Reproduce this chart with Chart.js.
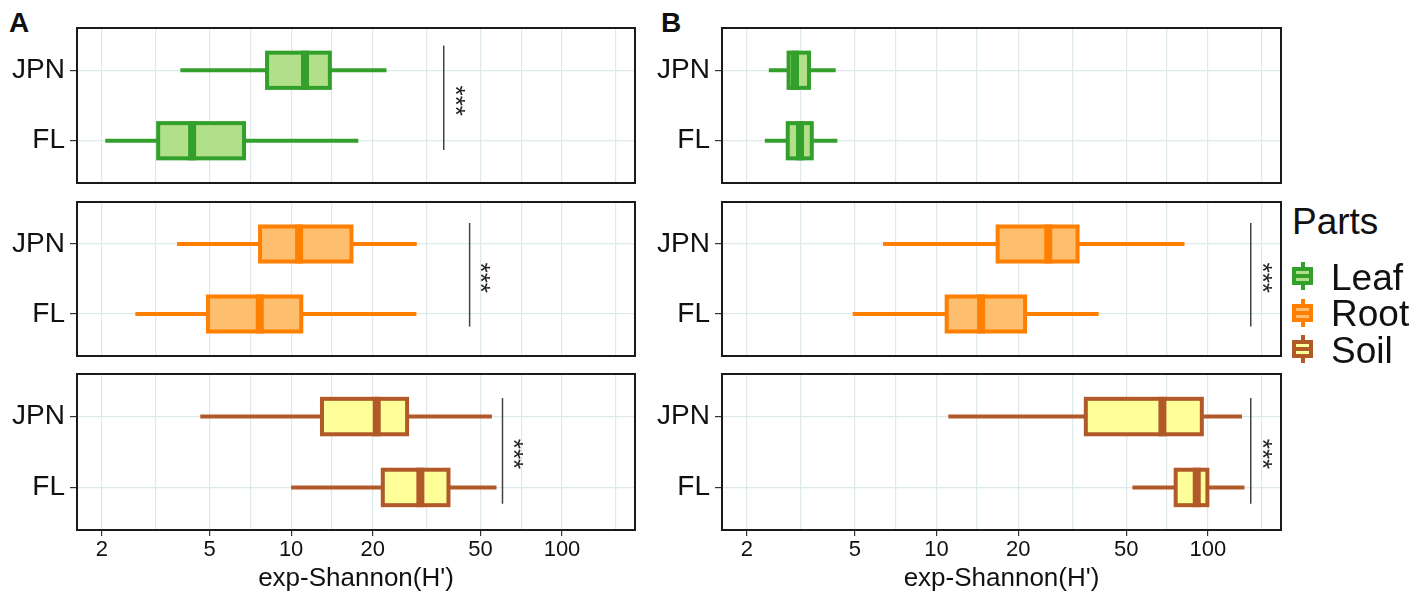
<!DOCTYPE html>
<html>
<head>
<title>exp-Shannon boxplots</title>
<style>
    body {
        margin: 0;
        background: #fff;
        width: 1418px;
        height: 605px;
        position: relative;
        overflow: hidden;
        font-family: "Liberation Sans", Arial, sans-serif;
        color: #111;
    }
    canvas { position: absolute; }
    .tag {
        position: absolute;
        font-weight: bold;
        font-size: 28px;
        line-height: 28px;
    }
    .legend-title {
        position: absolute;
        left: 1292px;
        top: 203px;
        font-size: 37px;
        line-height: 37px;
    }
    .key { position: absolute; left: 1292px; width: 21px; height: 28px; }
    .key div { position: absolute; box-sizing: border-box; }
    .key-label { position: absolute; left: 1331px; font-size: 37px; line-height: 37px; }
</style>
</head>
<body>
    <div class="tag" style="left:9px; top:9px;">A</div>
    <div class="tag" style="left:661px; top:9px;">B</div>

    <canvas id="a0" width="645" height="175" style="left:0; top:18px;"></canvas>
    <canvas id="a1" width="645" height="174" style="left:0; top:192px;"></canvas>
    <canvas id="a2" width="645" height="241" style="left:0; top:364px;"></canvas>
    <canvas id="b0" width="640" height="175" style="left:650px; top:18px;"></canvas>
    <canvas id="b1" width="640" height="174" style="left:650px; top:192px;"></canvas>
    <canvas id="b2" width="640" height="241" style="left:650px; top:364px;"></canvas>

    <div class="legend-title">Parts</div>
    <div id="legend"></div>

    <script src="https://cdn.jsdelivr.net/npm/chart.js"></script>
    <script>
        const groups = ['JPN', 'FL'];
        const groupPos = [2, 1]; // JPN on top
        const partNames = ['Leaf', 'Root', 'Soil'];
        const partLine = ['#33a02c', '#ff7f00', '#b15928'];
        const partFill = ['#b2df8a', '#fdbf6f', '#ffff99'];

        // [lower whisker, Q1, median, Q3, upper whisker] for JPN, FL
        const leafA = [[3.90, 8.15, 11.25, 13.9, 22.5], [2.06, 3.23, 4.31, 6.70, 17.7]];
        const rootA = [[3.79, 7.68, 10.7, 16.7, 29.1], [2.66, 4.93, 7.66, 10.9, 29.0]];
        const soilA = [[4.62, 13.0, 20.7, 26.8, 55.1], [10.0, 21.8, 30.0, 38.1, 57.3]];
        const leafB = [[2.41, 2.85, 3.01, 3.39, 4.25], [2.33, 2.83, 3.14, 3.47, 4.31]];
        const rootB = [[6.35, 16.8, 25.8, 33.1, 82.0], [4.91, 10.9, 14.6, 21.2, 39.6]];
        const soilB = [[11.05, 35.5, 68.0, 95.0, 133.6], [52.7, 76.1, 91.0, 99.6, 136.4]];

        // significance bars: x position, vertical span in y units
        const sigA = [36.6, 45.6, 60.3];
        const sigB = [null, 143.9, 143.9];
        const sigTop = [2.35, 2.30, 2.26];
        const sigBottom = [0.87, 0.82, 0.77];
        const sigLabel = '***';

        const majorTicks = [2, 5, 10, 20, 50, 100];
        const minorTicks = [3.16, 7.07, 14.1, 31.6, 70.7, 158];
        const xMin = 1.62, xMax = 186;
        const xTitle = "exp-Shannon(H')";

        const family = '"Liberation Sans", Arial, sans-serif';
        const gridCol = '#dde9ea';

        const boxPlugin = {
            id: 'boxes',
            afterDatasetsDraw(chart, args, opts) {
                const { ctx, scales: { x, y } } = chart;
                const unit = Math.abs(y.getPixelForValue(2) - y.getPixelForValue(1));
                const half = unit * 0.25;
                ctx.save();
                opts.stats.forEach((s, i) => {
                    const py = y.getPixelForValue(groupPos[i]);
                    const [lo, q1, med, q3, hi] = s.map(v => x.getPixelForValue(v));
                    ctx.strokeStyle = opts.line;
                    ctx.lineWidth = 4;
                    ctx.beginPath();
                    ctx.moveTo(lo, py); ctx.lineTo(q1, py);
                    ctx.moveTo(q3, py); ctx.lineTo(hi, py);
                    ctx.stroke();
                    ctx.fillStyle = opts.fill;
                    ctx.fillRect(q1, py - half, q3 - q1, 2 * half);
                    ctx.strokeRect(q1, py - half, q3 - q1, 2 * half);
                    ctx.lineWidth = 8;
                    ctx.beginPath();
                    ctx.moveTo(med, py - half - 2); ctx.lineTo(med, py + half + 2);
                    ctx.stroke();
                });
                if (opts.sig) {
                    const sx = x.getPixelForValue(opts.sig);
                    const y1 = y.getPixelForValue(opts.top);
                    const y2 = y.getPixelForValue(opts.bottom);
                    ctx.strokeStyle = '#444';
                    ctx.lineWidth = 1.5;
                    ctx.beginPath();
                    ctx.moveTo(sx, y1); ctx.lineTo(sx, y2);
                    ctx.stroke();
                    ctx.translate(sx + 10, (y1 + y2) / 2 + 3);
                    ctx.rotate(Math.PI / 2);
                    ctx.fillStyle = '#222';
                    ctx.font = '26px ' + family;
                    ctx.textAlign = 'center';
                    ctx.textBaseline = 'middle';
                    ctx.fillText(sigLabel, 0, 0);
                }
                ctx.restore();
            },
            afterDraw(chart) {
                const { ctx, chartArea: a } = chart;
                ctx.save();
                ctx.strokeStyle = '#1a1a1a';
                ctx.lineWidth = 2;
                ctx.strokeRect(a.left, a.top, a.width, a.height);
                ctx.restore();
            }
        };

        function panel(id, stats, part, row, isB, sig) {
            const bottom = row === 2;
            const xScale = {
                type: 'logarithmic',
                min: xMin,
                max: xMax,
                afterBuildTicks: s => { s.ticks = majorTicks.concat(minorTicks).map(v => ({ value: v })); },
                afterFit: s => {
                    s.height = bottom ? 75 : 0;
                    s.paddingLeft = 0; s.paddingRight = 0;
                },
                ticks: {
                    display: bottom,
                    autoSkip: false,
                    maxRotation: 0,
                    minRotation: 0,
                    padding: 1,
                    color: '#111',
                    font: { size: 22, family: family },
                    callback: v => majorTicks.includes(v) ? String(v) : ''
                },
                grid: {
                    color: gridCol,
                    lineWidth: 1.2,
                    drawTicks: bottom,
                    tickLength: 6,
                    tickColor: c => (c.tick && majorTicks.includes(c.tick.value)) ? '#333' : 'rgba(0,0,0,0)'
                },
                border: { display: false },
                title: {
                    display: bottom,
                    text: xTitle,
                    color: '#111',
                    font: { size: 26, family: family, lineHeight: 1 },
                    padding: { top: 0, bottom: 13 }
                }
            };
            new Chart(document.getElementById(id), {
                type: 'scatter',
                data: { datasets: [] },
                options: {
                    responsive: false,
                    animation: false,
                    layout: { padding: { top: 10, bottom: bottom ? 0 : 10, left: 0, right: isB ? 9 : 10 } },
                    plugins: {
                        legend: { display: false },
                        tooltip: { enabled: false },
                        boxes: {
                            stats: stats,
                            line: partLine[part],
                            fill: partFill[part],
                            sig: sig,
                            top: sigTop[row],
                            bottom: sigBottom[row]
                        }
                    },
                    scales: {
                        x: xScale,
                        y: {
                            type: 'linear',
                            min: 0.4,
                            max: 2.6,
                            afterBuildTicks: s => { s.ticks = groupPos.map(v => ({ value: v })); },
                            afterFit: s => {
                                s.width = isB ? 72 : 77;
                                s.paddingTop = 0; s.paddingBottom = 0;
                            },
                            ticks: {
                                color: '#111',
                                padding: 5,
                                font: { size: 28, family: family },
                                callback: v => groups[groupPos.indexOf(v)]
                            },
                            grid: { color: gridCol, lineWidth: 1.2, tickColor: '#333', tickLength: 7 },
                            border: { display: false }
                        }
                    }
                },
                plugins: [boxPlugin]
            });
        }

        panel('a0', leafA, 0, 0, false, sigA[0]);
        panel('a1', rootA, 1, 1, false, sigA[1]);
        panel('a2', soilA, 2, 2, false, sigA[2]);
        panel('b0', leafB, 0, 0, true, sigB[0]);
        panel('b1', rootB, 1, 1, true, sigB[1]);
        panel('b2', soilB, 2, 2, true, sigB[2]);

        // legend with small boxplot glyphs
        const legend = document.getElementById('legend');
        partNames.forEach((name, i) => {
            const key = document.createElement('div');
            key.className = 'key';
            key.style.top = (262 + i * 36.7) + 'px';
            key.innerHTML =
                '<div style="left:8.5px;top:0;width:4px;height:28px;background:' + partLine[i] + '"></div>' +
                '<div style="left:0;top:5px;width:21px;height:18px;border:4px solid ' + partLine[i] + ';background:' + partFill[i] + '"></div>' +
                '<div style="left:0;top:12px;width:21px;height:4px;background:' + partLine[i] + '"></div>';
            legend.appendChild(key);
            const label = document.createElement('div');
            label.className = 'key-label';
            label.style.top = (258.7 + i * 36.7) + 'px';
            label.textContent = name;
            legend.appendChild(label);
        });
    </script>
</body>
</html>
